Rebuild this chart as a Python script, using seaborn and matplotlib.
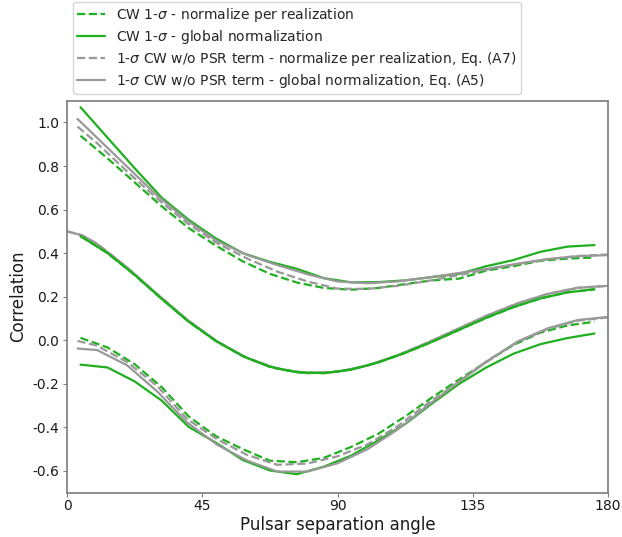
import numpy as np
import pandas as pd
import matplotlib
matplotlib.use("Agg")
import matplotlib.pyplot as plt
import seaborn as sns

# ---------------- data ----------------
# simulated CW bins (degrees)
bin_centers = [4.5, 13.5, 22.5, 31.5, 40.5, 49.5, 58.5, 67.5, 76.5, 85.5,
               94.5, 103.5, 112.5, 121.5, 130.5, 139.5, 148.5, 157.5, 166.5, 175.5]

cw_mean = [0.478, 0.400, 0.300, 0.190, 0.085, -0.003, -0.073, -0.122, -0.147, -0.151,
           -0.135, -0.102, -0.058, -0.007, 0.048, 0.103, 0.152, 0.192, 0.220, 0.234]

cw_real_upper = [0.939, 0.835, 0.725, 0.615, 0.515, 0.435, 0.362, 0.305, 0.265, 0.240,
                 0.232, 0.240, 0.258, 0.275, 0.283, 0.320, 0.340, 0.365, 0.375, 0.380]
cw_real_lower = [0.011, -0.033, -0.110, -0.215, -0.350, -0.440, -0.500, -0.553, -0.560, -0.540,
                 -0.490, -0.430, -0.350, -0.262, -0.180, -0.100, -0.022, 0.035, 0.068, 0.085]

cw_glob_upper = [1.070, 0.930, 0.790, 0.655, 0.553, 0.468, 0.400, 0.360, 0.328, 0.285,
                 0.266, 0.267, 0.275, 0.290, 0.305, 0.340, 0.368, 0.406, 0.430, 0.437]
cw_glob_lower = [-0.112, -0.125, -0.189, -0.277, -0.398, -0.470, -0.550, -0.598, -0.615, -0.580,
                 -0.530, -0.460, -0.385, -0.290, -0.200, -0.125, -0.062, -0.018, 0.010, 0.031]

# analytic curves without pulsar term
theory_angles = [3.5, 10, 20, 30, 40, 50, 60, 70, 80, 90,
                 100, 110, 120, 130, 140, 150, 160, 170, 180]
mean_angles = [0, 5, 10, 20, 30, 40, 50, 60, 70, 80, 90,
               100, 110, 120, 130, 140, 150, 160, 170, 180]
theory_mean = [0.500, 0.482, 0.443, 0.334, 0.212, 0.094, -0.006, -0.082, -0.131, -0.151, -0.145,
               -0.116, -0.069, -0.011, 0.052, 0.115, 0.170, 0.213, 0.241, 0.250]

a7_upper = [0.981, 0.905, 0.775, 0.650, 0.538, 0.445, 0.375, 0.315, 0.270, 0.237,
            0.236, 0.250, 0.272, 0.298, 0.325, 0.350, 0.372, 0.387, 0.394]
a7_lower = [-0.003, -0.025, -0.100, -0.210, -0.362, -0.455, -0.527, -0.572, -0.566, -0.533,
            -0.478, -0.395, -0.290, -0.195, -0.092, -0.008, 0.052, 0.090, 0.105]

a5_upper = [1.016, 0.930, 0.797, 0.664, 0.550, 0.455, 0.392, 0.345, 0.303, 0.270,
            0.262, 0.270, 0.288, 0.308, 0.328, 0.352, 0.373, 0.386, 0.391]
a5_lower = [-0.038, -0.045, -0.115, -0.235, -0.378, -0.480, -0.553, -0.603, -0.603, -0.565,
            -0.500, -0.410, -0.300, -0.195, -0.095, -0.005, 0.055, 0.093, 0.107]

labels = [r"CW 1-$\sigma$ - normalize per realization",
          r"CW 1-$\sigma$ - global normalization",
          r"1-$\sigma$ CW w/o PSR term - normalize per realization, Eq. (A7)",
          r"1-$\sigma$ CW w/o PSR term - global normalization, Eq. (A5)"]

x_ticks = [0, 45, 90, 135, 180]
y_ticks = [-0.6, -0.4, -0.2, 0.0, 0.2, 0.4, 0.6, 0.8, 1.0]

# ---------------- style ----------------
sns.set_style("ticks")
plt.rcParams.update({
    "font.family": ["DejaVu Sans"],
    "axes.edgecolor": "0.5",
    "axes.linewidth": 1.25,
    "xtick.color": "0.5",
    "ytick.color": "0.5",
    "xtick.labelcolor": "0.1",
    "ytick.labelcolor": "0.1",
    "xtick.labelsize": 10,
    "ytick.labelsize": 10,
    "xtick.major.size": 3.0,
    "ytick.major.size": 3.0,
    "xtick.major.pad": 1.8,
    "ytick.major.pad": 2.5,
})

GREEN = "#1faf1f"
GRAY = "#999999"

fig = plt.figure(figsize=(6.22, 5.37), dpi=100)
ax = fig.add_axes([67 / 622, (537 - 492.7) / 537, (608 - 67) / 622, (492.7 - 100.7) / 537])

series = [
    (bin_centers, [cw_real_upper, cw_mean, cw_real_lower], GREEN, "--", labels[0]),
    (bin_centers, [cw_glob_upper, cw_mean, cw_glob_lower], GREEN, "-", labels[1]),
    (None, [a7_upper, theory_mean, a7_lower], GRAY, "--", labels[2]),
    (None, [a5_upper, theory_mean, a5_lower], GRAY, "-", labels[3]),
]

handles = []
for xs, ys_list, col, ls, lab in series:
    for i, ys in enumerate(ys_list):
        if xs is None:
            xx = mean_angles if i == 1 else theory_angles
        else:
            xx = xs
        df = pd.DataFrame({"angle": xx, "corr": ys})
        sns.lineplot(data=df, x="angle", y="corr", ax=ax, color=col, linestyle=ls,
                     lw=1.6, legend=False, zorder=3 if i == 1 and col == GREEN else 2)
    handles.append(ax.lines[-3])

ax.set_xlim(0, 180)
ax.set_ylim(-0.7, 1.1)
ax.set_xticks(x_ticks)
ax.set_yticks(y_ticks)
ax.set_yticklabels([f"{v:.1f}" for v in y_ticks])
ax.set_xlabel("Pulsar separation angle", fontsize=12, color="0.1", labelpad=2)
ax.set_ylabel("Correlation", fontsize=12, color="0.1", labelpad=4)

ax.legend(handles=handles, labels=labels, loc="lower left", bbox_to_anchor=(0, 1),
          fontsize=10, frameon=True, edgecolor="0.8", fancybox=True,
          labelspacing=0.3, borderpad=0.3, borderaxespad=0.45)

fig.savefig("out.png", dpi=100)
